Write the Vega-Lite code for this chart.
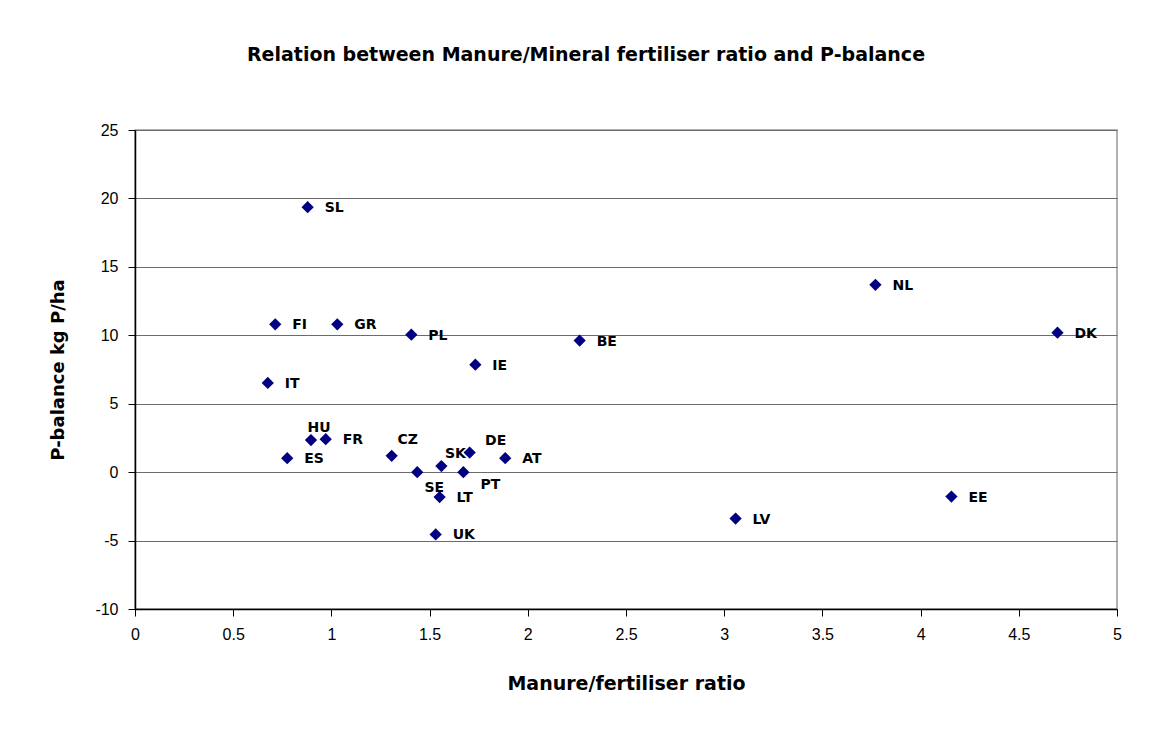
{
  "$schema": "https://vega.github.io/schema/vega-lite/v6.json",
  "width": 982,
  "height": 479,
  "autosize": {"type": "none"},
  "padding": {"left": 135, "top": 130, "right": 43, "bottom": 124},
  "background": "white",
  "config": {
    "font": "Liberation Sans",
    "view": {"stroke": "#999999", "strokeWidth": 1.5},
    "axis": {"labelFont": "Liberation Sans", "titleFont": "DejaVu Sans", "labelColor": "black", "titleColor": "black"}
  },
  "title": {
    "text": "Relation between Manure/Mineral fertiliser ratio and P-balance",
    "font": "DejaVu Sans",
    "fontSize": 19,
    "fontWeight": "bold",
    "color": "black",
    "anchor": "middle",
    "dx": -40,
    "offset": 57
  },
  "data": {
    "values": [
      {"country": "SL", "ratio": 0.879, "balance": 19.36},
      {"country": "FI", "ratio": 0.714, "balance": 10.8},
      {"country": "GR", "ratio": 1.03, "balance": 10.8},
      {"country": "PL", "ratio": 1.407, "balance": 10.04},
      {"country": "IE", "ratio": 1.733, "balance": 7.85},
      {"country": "IT", "ratio": 0.676, "balance": 6.52},
      {"country": "HU", "ratio": 0.896, "balance": 2.34},
      {"country": "FR", "ratio": 0.971, "balance": 2.41},
      {"country": "ES", "ratio": 0.775, "balance": 1.02},
      {"country": "CZ", "ratio": 1.307, "balance": 1.19},
      {"country": "DE", "ratio": 1.704, "balance": 1.43},
      {"country": "SK", "ratio": 1.56, "balance": 0.44},
      {"country": "AT", "ratio": 1.885, "balance": 1.02},
      {"country": "SE", "ratio": 1.437, "balance": 0.0},
      {"country": "PT", "ratio": 1.672, "balance": 0.0},
      {"country": "LT", "ratio": 1.551, "balance": -1.82},
      {"country": "UK", "ratio": 1.531, "balance": -4.55},
      {"country": "NL", "ratio": 3.77, "balance": 13.69},
      {"country": "DK", "ratio": 4.697, "balance": 10.19},
      {"country": "BE", "ratio": 2.264, "balance": 9.61},
      {"country": "LV", "ratio": 3.058, "balance": -3.39},
      {"country": "EE", "ratio": 4.157, "balance": -1.78}
    ]
  },
  "encoding": {
    "x": {
      "field": "ratio",
      "type": "quantitative",
      "scale": {"domain": [0, 5], "nice": false, "zero": false},
      "axis": {
        "title": "Manure/fertiliser ratio",
        "titleFontSize": 19,
        "titleFontWeight": "bold",
        "titlePadding": 32,
        "values": [0, 0.5, 1, 1.5, 2, 2.5, 3, 3.5, 4, 4.5, 5],
        "labelExpr": "datum.value + ''",
        "labelFontSize": 16,
        "labelPadding": 10,
        "labelFlush": false,
        "tickSize": 7,
        "tickColor": "black",
        "domainColor": "black",
        "domainWidth": 1.5,
        "grid": false
      }
    },
    "y": {
      "field": "balance",
      "type": "quantitative",
      "scale": {"domain": [-10, 25], "nice": false, "zero": false},
      "axis": {
        "title": "P-balance kg P/ha",
        "titleFontSize": 18,
        "titleFontWeight": "bold",
        "titlePadding": 27,
        "values": [-10, -5, 0, 5, 10, 15, 20, 25],
        "labelExpr": "datum.value + ''",
        "labelFontSize": 16,
        "labelPadding": 10,
        "labelFlush": false,
        "tickSize": 7,
        "tickColor": "black",
        "domainColor": "black",
        "domainWidth": 1.5,
        "grid": true,
        "gridColor": "#6b6b6b",
        "gridWidth": 1.2
      }
    }
  },
  "layer": [
    {
      "mark": {"type": "point", "shape": "diamond", "filled": true, "size": 150, "color": "#000080", "opacity": 1}
    },
    {
      "transform": [{"filter": {"not": {"field": "country", "oneOf": ["HU", "CZ", "DE", "SK", "SE", "PT"]}}}],
      "mark": {"type": "text", "align": "left", "baseline": "middle", "dx": 17, "dy": 1, "fontSize": 14, "fontWeight": "bold", "color": "black", "font": "DejaVu Sans"},
      "encoding": {"text": {"field": "country"}}
    },
    {
      "transform": [{"filter": {"field": "country", "equal": "HU"}}],
      "mark": {"type": "text", "align": "center", "baseline": "middle", "dx": 8, "dy": -12, "fontSize": 14, "fontWeight": "bold", "color": "black", "font": "DejaVu Sans"},
      "encoding": {"text": {"field": "country"}}
    },
    {
      "transform": [{"filter": {"field": "country", "equal": "CZ"}}],
      "mark": {"type": "text", "align": "center", "baseline": "middle", "dx": 16, "dy": -16, "fontSize": 14, "fontWeight": "bold", "color": "black", "font": "DejaVu Sans"},
      "encoding": {"text": {"field": "country"}}
    },
    {
      "transform": [{"filter": {"field": "country", "equal": "DE"}}],
      "mark": {"type": "text", "align": "center", "baseline": "middle", "dx": 26, "dy": -12, "fontSize": 14, "fontWeight": "bold", "color": "black", "font": "DejaVu Sans"},
      "encoding": {"text": {"field": "country"}}
    },
    {
      "transform": [{"filter": {"field": "country", "equal": "SK"}}],
      "mark": {"type": "text", "align": "center", "baseline": "middle", "dx": 14, "dy": -12, "fontSize": 14, "fontWeight": "bold", "color": "black", "font": "DejaVu Sans"},
      "encoding": {"text": {"field": "country"}}
    },
    {
      "transform": [{"filter": {"field": "country", "equal": "SE"}}],
      "mark": {"type": "text", "align": "center", "baseline": "middle", "dx": 17, "dy": 16, "fontSize": 14, "fontWeight": "bold", "color": "black", "font": "DejaVu Sans"},
      "encoding": {"text": {"field": "country"}}
    },
    {
      "transform": [{"filter": {"field": "country", "equal": "PT"}}],
      "mark": {"type": "text", "align": "center", "baseline": "middle", "dx": 27, "dy": 13, "fontSize": 14, "fontWeight": "bold", "color": "black", "font": "DejaVu Sans"},
      "encoding": {"text": {"field": "country"}}
    }
  ]
}
